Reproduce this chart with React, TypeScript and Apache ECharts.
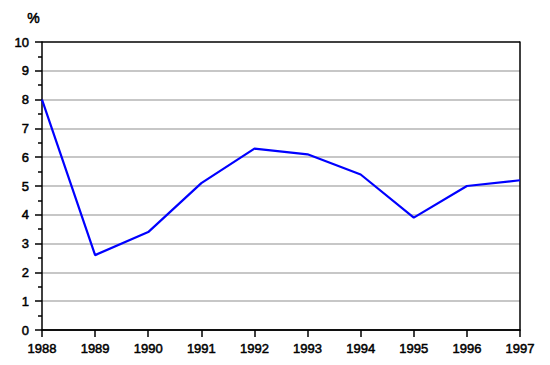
import React, { useEffect, useRef } from "react";
import * as echarts from "echarts";

const years = ["1988", "1989", "1990", "1991", "1992", "1993", "1994", "1995", "1996", "1997"];
const values = [8.0, 2.6, 3.4, 5.1, 6.3, 6.1, 5.4, 3.9, 5.0, 5.2];
const yMin = 0;
const yMax = 10;
const yStep = 1;

export default function App() {
  const ref = useRef<HTMLDivElement>(null);
  useEffect(() => {
    document.body.style.margin = "0";
    const chart = echarts.init(ref.current!, null, { renderer: "svg" });
    const font = {
      fontFamily: "Liberation Sans, Arial, sans-serif",
      fontSize: 13,
      color: "#000",
      textBorderColor: "#000",
      textBorderWidth: 0.5,
    };
    const splitColors = ["#000", "#b4b4b4", "#b4b4b4", "#b4b4b4", "#b4b4b4", "#b4b4b4", "#b4b4b4", "#b4b4b4", "#b4b4b4", "#b4b4b4", "#000"];
    chart.setOption({
      animation: false,
      backgroundColor: "#fff",
      grid: { left: 42, right: 30, top: 42, bottom: 35, containLabel: false },
      graphic: [
        {
          type: "text",
          left: 27,
          top: 11,
          style: { text: "%", font: "14px Liberation Sans, Arial, sans-serif", fill: "#000", stroke: "#000", lineWidth: 0.5 },
        },
      ],
      xAxis: [
        {
          type: "category",
          data: years,
          boundaryGap: false,
          axisLine: { lineStyle: { color: "#000", width: 1.5 } },
          axisTick: { show: true, length: 7, alignWithLabel: true, lineStyle: { color: "#000", width: 1.5 } },
          axisLabel: { ...font, margin: 12, interval: 0 },
          splitLine: { show: false },
        },
      ],
      yAxis: [
        {
          type: "value",
          min: yMin,
          max: yMax,
          interval: yStep,
          axisLine: { show: true, lineStyle: { color: "#000", width: 1.5 } },
          axisTick: { show: true, length: 7, lineStyle: { color: "#000", width: 1.5 } },
          minorTick: { show: true, splitNumber: 2, length: 4, lineStyle: { color: "#000", width: 1.5 } },
          axisLabel: { ...font, margin: 13 },
          splitLine: { show: true, lineStyle: { color: splitColors, width: 1.5 } },
        },
        {
          type: "value",
          position: "right",
          min: yMin,
          max: yMax,
          interval: yStep,
          axisLine: { show: true, lineStyle: { color: "#000", width: 1.5 } },
          axisTick: { show: false },
          axisLabel: { show: false },
          splitLine: { show: false },
        },
      ],
      series: [
        {
          type: "line",
          data: values,
          yAxisIndex: 0,
          symbol: "none",
          lineStyle: { color: "#0000ff", width: 2.2 },
          z: 5,
        },
      ],
    });
    return () => chart.dispose();
  }, []);
  return <div ref={ref} style={{ position: "absolute", left: 0, top: 0, width: 550, height: 365 }} />;
}
